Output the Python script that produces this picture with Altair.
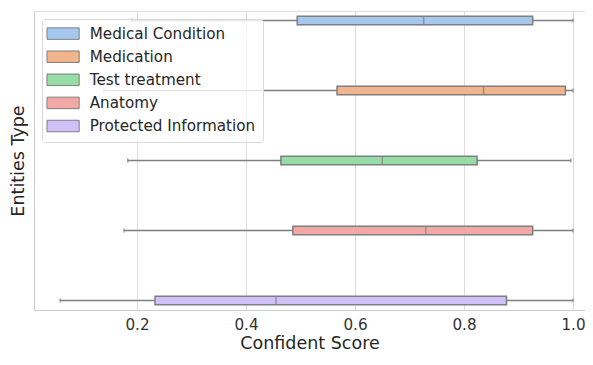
import altair as alt
import pandas as pd

categories = ["Medical Condition", "Medication", "Test treatment", "Anatomy", "Protected Information"]
whisker_low = [0.19, 0.139, 0.183, 0.176, 0.059]
q1 = [0.494, 0.567, 0.464, 0.486, 0.233]
median = [0.726, 0.836, 0.650, 0.730, 0.455]
q3 = [0.926, 0.986, 0.824, 0.926, 0.878]
whisker_high = [1.0, 1.0, 0.996, 1.0, 1.0]
colors = ["#a6c8ee", "#f1b48c", "#95dca6", "#f2a8a5", "#d1bff8"]

df = pd.DataFrame({
    "cat": categories, "low": whisker_low, "q1": q1,
    "med": median, "q3": q3, "high": whisker_high,
})

EDGE = "#7f7f7f"
FONT = "DejaVu Sans"
xscale = alt.Scale(domain=[0.011, 1.022], nice=False, zero=False)
yscale = alt.Scale(type="point", domain=categories, padding=0.135)

xaxis = alt.Axis(values=[0.2, 0.4, 0.6, 0.8, 1.0], format=".1f", title="Confident Score",
                 grid=True, gridColor="#dcdcdc", domainColor="#cccccc", ticks=False,
                 labelPadding=7, labelFontSize=15.2, labelColor="#333333", labelFont=FONT,
                 titleFontSize=17.5, titleFontWeight="normal", titleColor="#262626",
                 titleFont=FONT, titlePadding=2)
yaxis = alt.Axis(labels=False, ticks=False, grid=False, domainColor="#cccccc",
                 title="Entities Type", titleFontSize=17.5, titleFontWeight="normal",
                 titleColor="#262626", titleFont=FONT, titlePadding=7)

base = alt.Chart(df)

whisk = base.mark_rule(color=EDGE, strokeWidth=1.5).encode(
    x=alt.X("low:Q", scale=xscale, axis=xaxis),
    x2="high:Q",
    y=alt.Y("cat:N", scale=yscale, axis=yaxis),
)
cap_lo = base.mark_tick(color=EDGE, size=4, thickness=1.5).encode(
    x=alt.X("low:Q", scale=xscale), y=alt.Y("cat:N", scale=yscale))
cap_hi = base.mark_tick(color=EDGE, size=4, thickness=1.5).encode(
    x=alt.X("high:Q", scale=xscale), y=alt.Y("cat:N", scale=yscale))

box = base.mark_bar(size=8.5, stroke=EDGE, strokeWidth=1.5).encode(
    x=alt.X("q1:Q", scale=xscale),
    x2="q3:Q",
    y=alt.Y("cat:N", scale=yscale),
    color=alt.Color("cat:N", scale=alt.Scale(domain=categories, range=colors),
                    legend=alt.Legend(title=None, orient="none", legendX=8, legendY=8)),
)
med = base.mark_tick(color=EDGE, size=8.5, thickness=1.5).encode(
    x=alt.X("med:Q", scale=xscale), y=alt.Y("cat:N", scale=yscale))

chart = alt.layer(whisk, cap_lo, cap_hi, box, med).properties(
    width=551, height=299,
    autosize=alt.AutoSizeParams(type="none"),
    padding={"left": 26, "top": 3, "right": 0, "bottom": 42},
).configure_view(stroke=None).configure(font=FONT).configure_legend(
    padding=7, fillColor="rgba(255,255,255,0.8)", strokeColor="#d9d9d9",
    cornerRadius=3, labelFontSize=15.2, labelColor="#262626", labelFont=FONT,
    labelLimit=300,
    symbolType="M-2.8,-1H2.8V1H-2.8Z", symbolSize=132,
    symbolStrokeColor=EDGE, symbolStrokeWidth=1, symbolOpacity=1,
    symbolOffset=6.5, labelOffset=19, rowPadding=6.1,
)

chart.save("out.html", embed_options={"renderer": "svg", "actions": False})
